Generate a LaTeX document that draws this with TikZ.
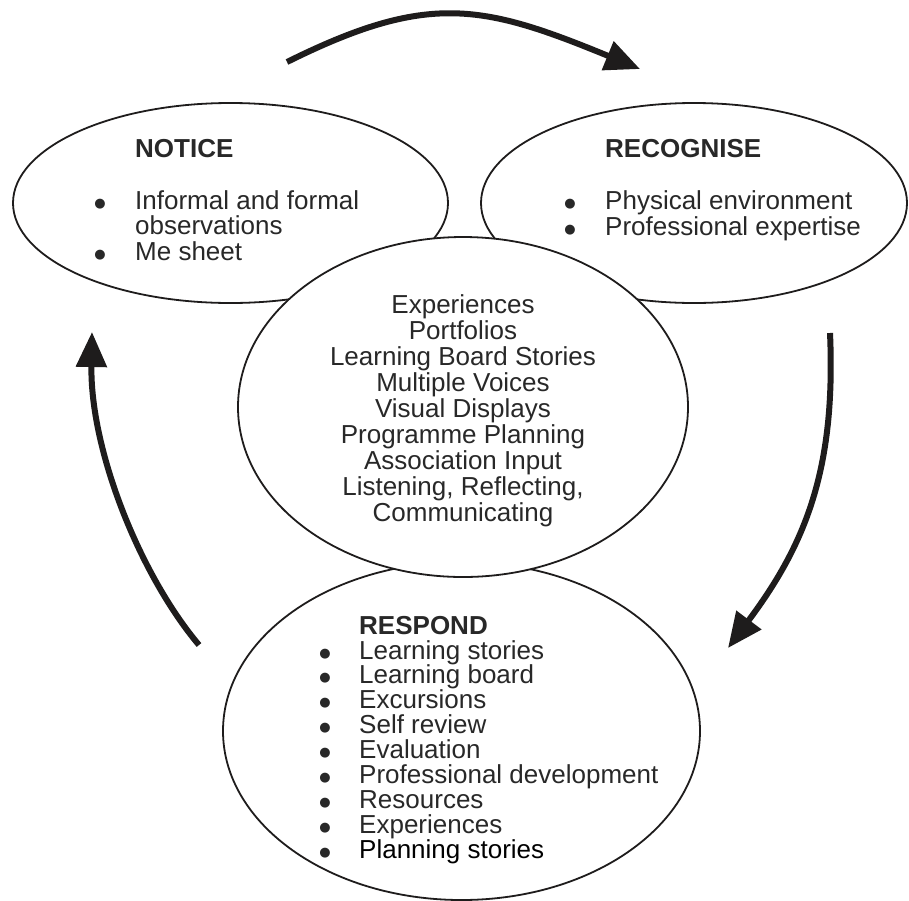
\documentclass[tikz,border=0pt]{standalone}
\usepackage{fontspec}
\setmainfont{Liberation Sans}
\newfontfamily\dotfont{DejaVu Sans}
\usetikzlibrary{arrows.meta,shapes.geometric}
\definecolor{ink}{RGB}{30,28,28}
\definecolor{txt}{RGB}{40,40,40}
\begin{document}
\begin{tikzpicture}[x=1pt,y=-1pt,
  oval/.style={draw=ink, line width=1.8pt, fill=white, ellipse, inner sep=0pt, outer sep=0pt},
  bigarrow/.style={draw=ink, line width=6pt, -{Triangle[length=35pt,width=30pt]}},
  lbl/.style={inner sep=0pt, anchor=base west, text=txt, font=\fontsize{26}{26}\selectfont},
  head/.style={lbl, font=\fontsize{26}{26}\selectfont\bfseries},
  ctr/.style={inner sep=0pt, anchor=base, text=txt, font=\fontsize{26}{26}\selectfont},
  bul/.style={inner sep=0pt, anchor=base, text=txt, font=\dotfont\fontsize{13}{13}\selectfont}]
\useasboundingbox (0,0) rectangle (909,900);
\fill[white] (0,0) rectangle (909,900);

% ellipses
\node[oval, minimum width=435pt, minimum height=200pt] (notice) at (230.5,203) {};
\node[oval, minimum width=426pt, minimum height=200pt] (recog) at (694,203) {};
\node[oval, minimum width=477pt, minimum height=338pt] (respond) at (461.5,731) {};
\node[oval, minimum width=450pt, minimum height=340pt] (centre) at (463,407) {};

% NOTICE
\node[head] (nh) at (135,157) {NOTICE};
\node[bul] (nb1) at (100,207) {●};
\node[lbl] (n1) at (135,209) {Informal and formal};
\node[lbl] (n2) at (135,234.5) {observations};
\node[bul] (nb2) at (100,258) {●};
\node[lbl] (n3) at (135,260) {Me sheet};

% RECOGNISE
\node[head] (rh) at (605,157) {RECOGNISE};
\node[bul] (rb1) at (570,207) {●};
\node[lbl] (r1) at (605,209) {Physical environment};
\node[bul] (rb2) at (570,233) {●};
\node[lbl] (r2) at (605,235) {Professional expertise};

% centre
\node[ctr] (c1) at (463,313) {Experiences};
\node[ctr] (c2) at (463,339) {Portfolios};
\node[ctr] (c3) at (463,365) {Learning Board Stories};
\node[ctr] (c4) at (463,391) {Multiple Voices};
\node[ctr] (c5) at (463,417) {Visual Displays};
\node[ctr] (c6) at (463,443) {Programme Planning};
\node[ctr] (c7) at (463,469) {Association Input};
\node[ctr] (c8) at (463,495) {Listening, Reflecting,};
\node[ctr] (c9) at (463,521) {Communicating};

% RESPOND
\node[head] (ph) at (359,634) {RESPOND};
\foreach \t [count=\i] in {Learning stories,Learning board,Excursions,Self review,Evaluation,Professional development,Resources,Experiences}{
  \node[bul] (pb\i) at (325,{659+24.9*(\i-1)-2}) {●};
  \node[lbl] (p\i) at (359,{659+24.9*(\i-1)}) {\t};
}
\node[bul] (pb9) at (325,856.2) {●};
\node[lbl, text=black] (p9) at (359,858.2) {Planning stories};

% cycle arrows
\coordinate (a1s) at (287,62);
\coordinate (a1e) at (640,69);
\coordinate (a2s) at (830,333);
\coordinate (a2e) at (728,648);
\coordinate (a3s) at (199,645);
\coordinate (a3e) at (92,332);
\draw[bigarrow] (a1s) .. controls (428,-8) and (482,4) .. (a1e);
\draw[bigarrow] (a2s) .. controls (836,470) and (805,545) .. (a2e);
\draw[bigarrow] (a3s) .. controls (140,575) and (90,450) .. (a3e);
\end{tikzpicture}
\end{document}
